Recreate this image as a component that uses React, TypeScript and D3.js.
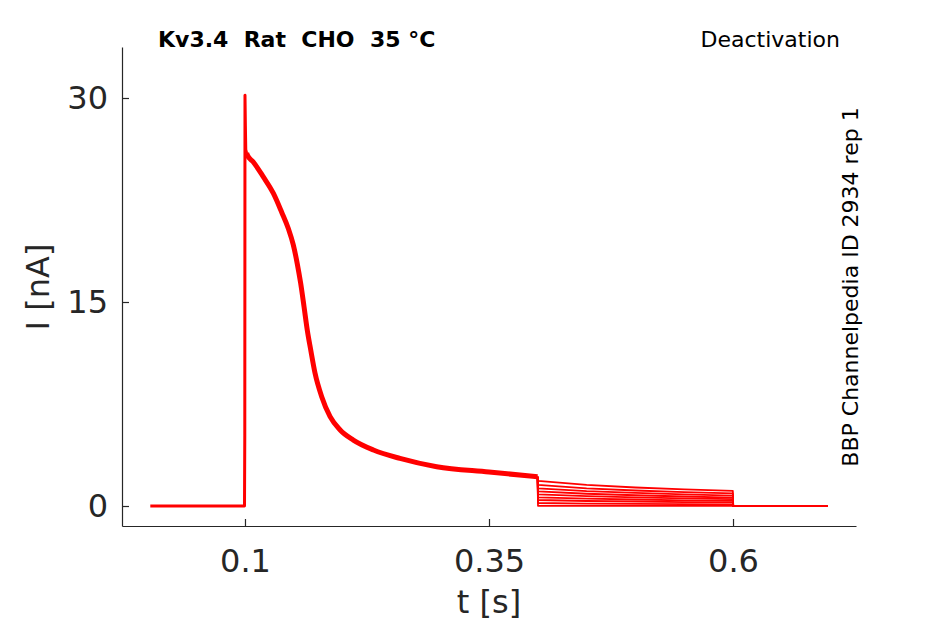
import { useEffect, useRef } from 'react';
import * as d3 from 'd3';

const WIDTH = 945;
const HEIGHT = 624;
const PLOT = { left: 122, right: 856, top: 47, bottom: 526 };

// shared part of every sweep: holding level, step and the inactivating current
const baseTime = [
    0.003, 0.0995, 0.0998, 0.1, 0.1004, 0.1008, 0.1017, 0.1024, 0.1085, 0.1188, 0.129, 0.1376, 0.1444, 0.1495, 0.1536,
    0.157, 0.1605, 0.1639, 0.1673, 0.1718, 0.1786, 0.1872, 0.1975, 0.211, 0.2316, 0.2588, 0.2964, 0.35, 0.3998,
];
const baseCurrent = [
    0, 0, 5.2, 30.2, 28.0, 26.2, 25.95, 25.8, 25.3, 24.2, 23.0, 21.6, 20.4, 19.2, 17.8, 16.4, 14.65, 12.9, 11.5, 9.76,
    8.04, 6.57, 5.59, 4.85, 4.12, 3.5, 2.89, 2.5, 2.15,
];

// deactivation tails, one value per sweep
const tailTime = [0.4002, 0.45, 0.5, 0.55, 0.5998];
const tailStart = [1.85, 1.55, 1.3, 1.07, 0.86, 0.64, 0.44, 0.22, 0.02];
const tail045 = [1.55, 1.3, 1.09, 0.9, 0.72, 0.54, 0.37, 0.18, 0.01];
const tail050 = [1.36, 1.14, 0.96, 0.79, 0.64, 0.48, 0.33, 0.16, 0.01];
const tail055 = [1.22, 1.02, 0.86, 0.7, 0.56, 0.42, 0.29, 0.14, 0.01];
const tailEnd = [1.12, 0.93, 0.77, 0.62, 0.5, 0.38, 0.26, 0.12, 0.01];
const afterTime = [0.6002, 0.697];

const xTicks = [0.1, 0.35, 0.6];
const yTicks = [0, 15, 30];

const FONT = 'DejaVu Sans';
const INK = '#262626';

export default function App() {
    const axesRef = useRef<SVGGElement>(null);

    const xScale = d3.scaleLinear().domain([-0.026, 0.726]).range([PLOT.left, PLOT.right]);
    const yScale = d3.scaleLinear().domain([-1.47, 33.75]).range([PLOT.bottom, PLOT.top]);

    const line = d3
        .line<[number, number]>()
        .x((d) => xScale(d[0]))
        .y((d) => yScale(d[1]));
    const smooth = d3
        .line<[number, number]>()
        .x((d) => xScale(d[0]))
        .y((d) => yScale(d[1]))
        .curve(d3.curveMonotoneX);

    const basePoints: [number, number][] = baseTime.map((t, i) => [t, baseCurrent[i]]);
    const tailColumns = [tailStart, tail045, tail050, tail055, tailEnd];

    const sweeps = tailStart.map((_, s) => {
        const pts: [number, number][] = [];
        tailTime.forEach((t, k) => pts.push([t, tailColumns[k][s]]));
        return pts;
    });

    useEffect(() => {
        const g = d3.select(axesRef.current);
        g.selectAll('*').remove();

        const xAxis = d3.axisBottom(xScale).tickValues(xTicks).tickFormat(d3.format('')).tickSizeInner(-7).tickSizeOuter(0).tickPadding(23.5);
        g.append('g').attr('transform', `translate(0,${PLOT.bottom})`).call(xAxis);

        const yAxis = d3.axisLeft(yScale).tickValues(yTicks).tickFormat(d3.format('d')).tickSizeInner(-7).tickSizeOuter(0).tickPadding(14);
        g.append('g').attr('transform', `translate(${PLOT.left},0)`).call(yAxis);

        g.selectAll('.domain').attr('stroke', INK).attr('stroke-width', 1.2);
        g.selectAll('.tick line').attr('stroke', INK).attr('stroke-width', 1.2);
        g.selectAll('.tick text').attr('fill', INK).attr('font-size', 32).attr('font-family', FONT);
    }, []);

    const last = basePoints[basePoints.length - 1];

    return (
        <svg width={WIDTH} height={HEIGHT} style={{ position: 'absolute', left: 0, top: 0, background: '#fff' }}>
            <rect width={WIDTH} height={HEIGHT} fill="#fff" />
            <g fill="none" stroke="#ff0000" strokeLinejoin="round">
                {sweeps.map((pts, i) => (
                    <path key={i} d={(line([last, ...pts, [afterTime[0], 0], [afterTime[1], 0]]) ?? '')} strokeWidth={1.8} />
                ))}
                <path d={line(basePoints.slice(0, 7)) ?? ''} strokeWidth={3} />
                <path d={smooth(basePoints.slice(6)) ?? ''} strokeWidth={5} />
            </g>
            <g ref={axesRef} />
            <text x={158} y={47} fontFamily={FONT} fontWeight="bold" fontSize={22} fill="#000" style={{ whiteSpace: 'pre' }}>
                Kv3.4  Rat  CHO  35 °C
            </text>
            <text x={840} y={47} fontFamily={FONT} fontSize={22} fill="#000" textAnchor="end">
                Deactivation
            </text>
            <text transform="translate(858,287) rotate(-90)" fontFamily={FONT} fontSize={22} fill="#000" textAnchor="middle">
                BBP Channelpedia ID 2934 rep 1
            </text>
            <text transform="translate(48.5,287) rotate(-90)" fontFamily={FONT} fontSize={32} fill={INK} textAnchor="middle">
                I [nA]
            </text>
            <text x={489} y={613} fontFamily={FONT} fontSize={32} fill={INK} textAnchor="middle">
                t [s]
            </text>
        </svg>
    );
}
